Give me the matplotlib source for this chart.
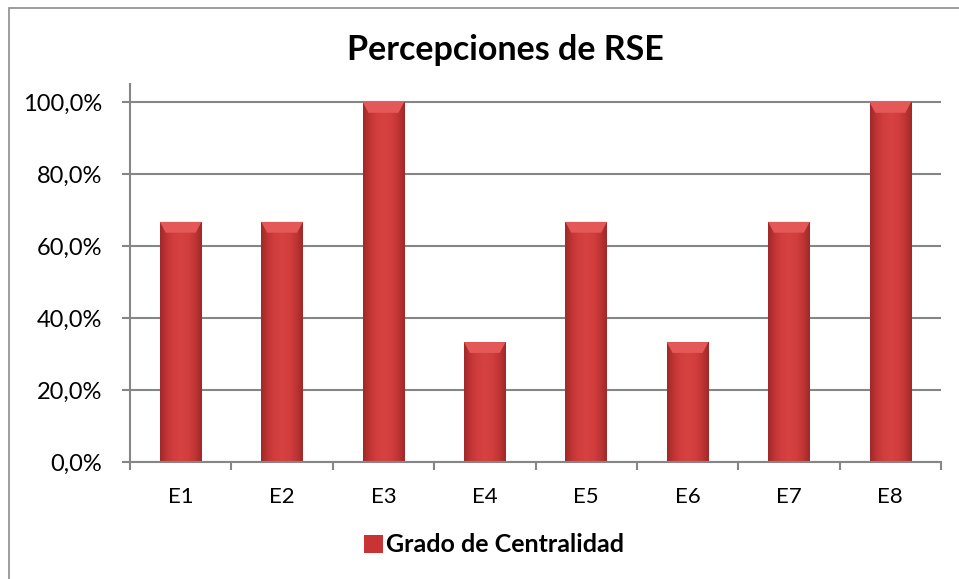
import matplotlib
matplotlib.use("Agg")
import matplotlib.pyplot as plt
import numpy as np
from matplotlib.patches import Rectangle
from matplotlib.colors import LinearSegmentedColormap
from matplotlib.ticker import FuncFormatter, FixedLocator

categories = ["E1", "E2", "E3", "E4", "E5", "E6", "E7", "E8"]
values = [0.667, 0.667, 1.0, 0.333, 0.667, 0.333, 0.667, 1.0]
series_name = "Grado de Centralidad"
title = "Percepciones de RSE"

plt.rcParams['font.family'] = ['Lato', 'DejaVu Sans']

fig = plt.figure(figsize=(9.59, 5.79), dpi=100)
# outer chart border
fig.patches.append(Rectangle((9/959, 0 - 0.01), 1.0, 1 - 8/579 + 0.01,
                             transform=fig.transFigure, fill=False,
                             edgecolor="#8c8c8c", linewidth=1.2))

ax = fig.add_axes([130/959, 1 - 462/579, (941-130)/959, (462-84)/579])
x = np.arange(len(categories))
bw = 0.41
bars = ax.bar(x, values, width=bw, color="#c83434", edgecolor="none", zorder=3)

cmap = LinearSegmentedColormap.from_list("bev", ["#9e2828", "#c23535", "#d23e3e", "#d64242", "#d23e3e", "#c23535", "#9e2828"])
grad = np.linspace(0, 1, 256).reshape(1, -1)
for b in bars:
    x0, w, h = b.get_x(), b.get_width(), b.get_height()
    im = ax.imshow(grad, extent=(x0, x0 + w, 0, h), aspect="auto", cmap=cmap,
                   zorder=3, interpolation="bicubic")
    im.set_clip_path(b)
    # top bevel
    ax.fill([x0, x0 + w, x0 + w*0.86, x0 + w*0.14], [h, h, h - 0.03, h - 0.03],
            color="#e45858", zorder=4, lw=0)

ax.set_xlim(-0.5, len(categories) - 0.5)
ax.set_ylim(0, 1.05)
ax.yaxis.set_major_locator(FixedLocator([0, 0.2, 0.4, 0.6, 0.8, 1.0]))
ax.yaxis.set_major_formatter(FuncFormatter(lambda v, p: f"{v*100:.1f}%".replace(".", ",")))
ax.set_xticks(x)
ax.set_xticklabels(categories)
ax.set_xticks(np.arange(-0.5, len(categories) + 0.5, 1), minor=True)
ax.tick_params(axis="x", which="major", length=0, pad=18, labelsize=16)
ax.tick_params(axis="x", which="minor", length=6, width=1.5, color="#868686", direction="out")
ax.tick_params(axis="y", length=6, width=1.5, color="#868686", direction="out", pad=14, labelsize=17)
ax.grid(axis="y", color="#868686", linewidth=1.5, zorder=1)
ax.set_axisbelow(True)
for s in ["top", "right"]:
    ax.spines[s].set_visible(False)
for s in ["left", "bottom"]:
    ax.spines[s].set_color("#868686")
    ax.spines[s].set_linewidth(1.5)
    ax.spines[s].set_zorder(5)

fig.text(505/959, 1 - 50/579, title, ha="center", va="center", fontsize=24.5, fontweight="bold")

leg = fig.legend([Rectangle((0, 0), 1, 1, facecolor="#c83434", edgecolor="none")], [series_name],
                 loc="center", bbox_to_anchor=(494/959, 1 - 545/579), frameon=False,
                 prop={"weight": "bold", "size": 18}, handlelength=0.75, handleheight=0.75,
                 handletextpad=0.15)

fig.savefig("out.png", dpi=100, facecolor="white")
